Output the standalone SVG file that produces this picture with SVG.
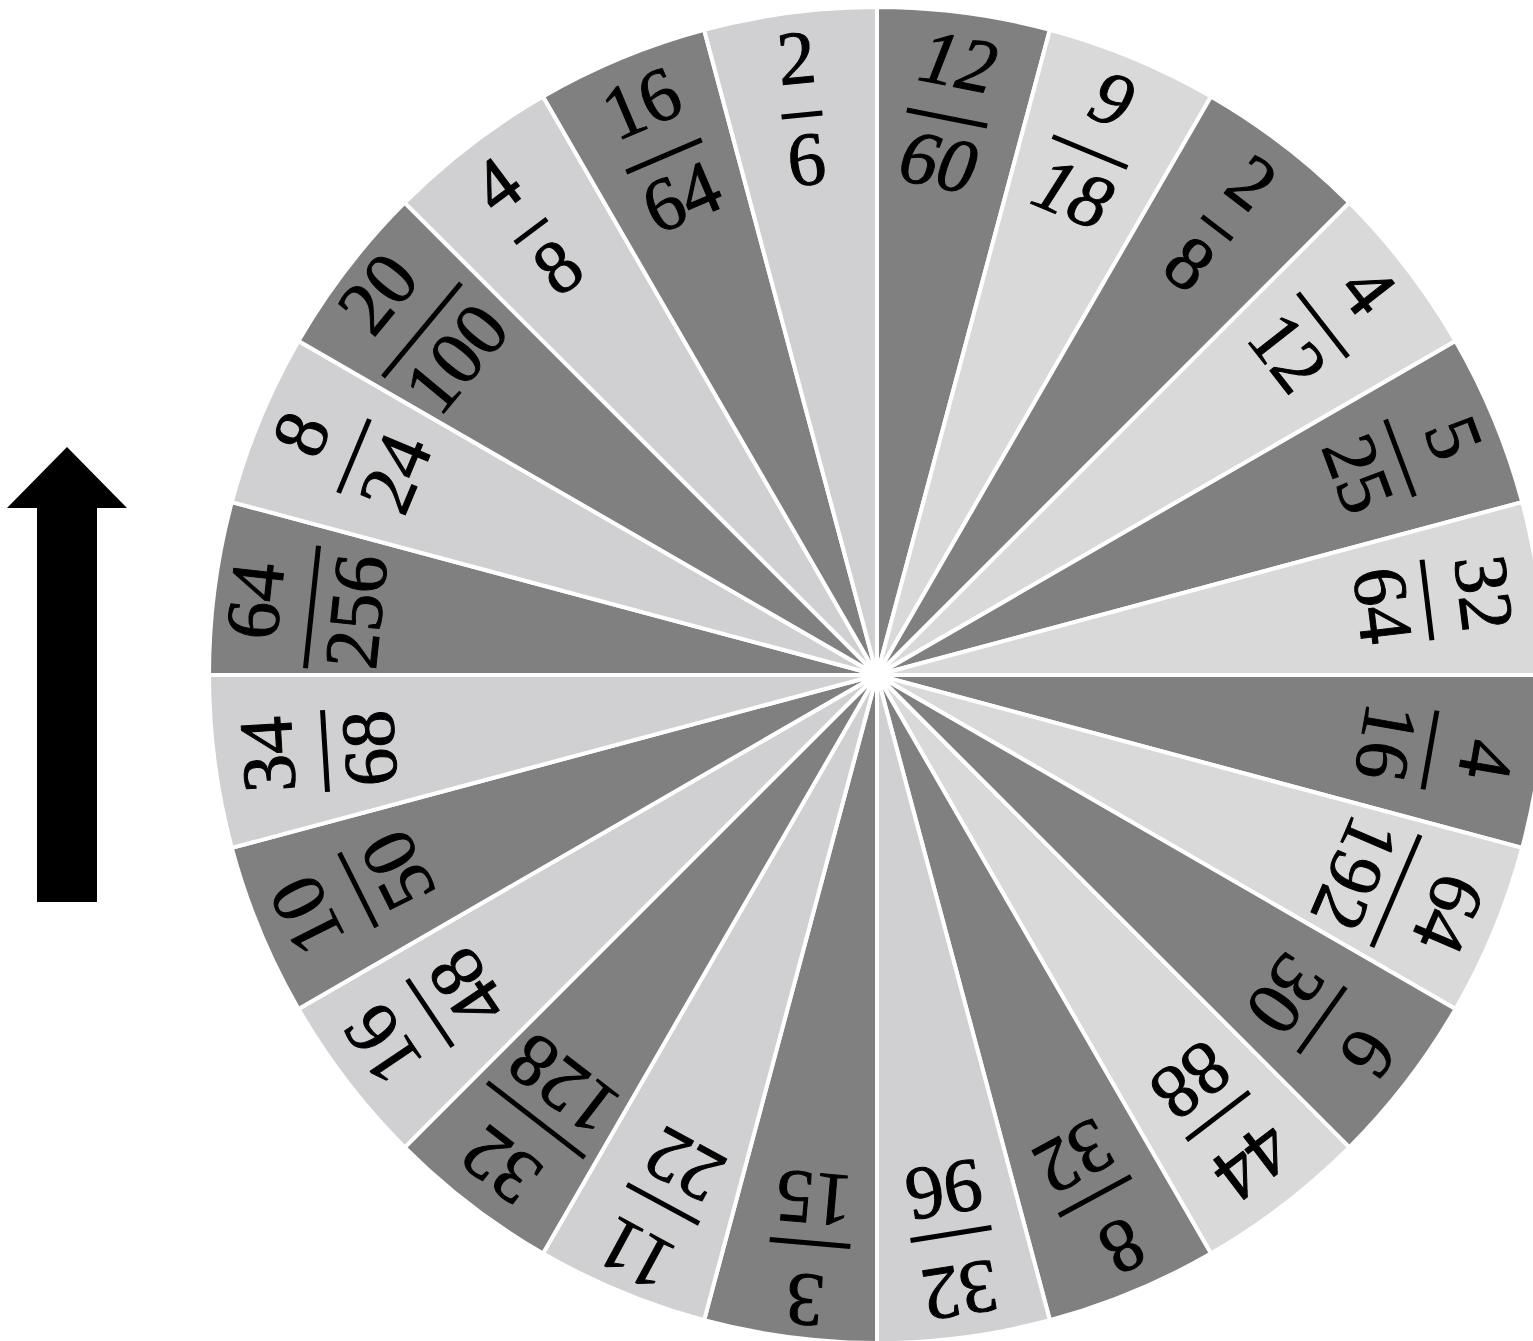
<svg xmlns="http://www.w3.org/2000/svg" width="1533" height="1341" viewBox="0 0 1533 1341">
<style>
.s{stroke:#ffffff;stroke-width:4;stroke-linejoin:round}
.d{fill:#808080}
.l1{fill:#d0cfd1}
.l2{fill:#d9d9d9}
.t{font-family:"Liberation Serif","DejaVu Serif",serif;font-size:76px;fill:#000;stroke:#000;stroke-width:1;text-anchor:middle}
.i{font-style:italic}
.b{fill:#000}
</style>
<rect width="1533" height="1341" fill="#ffffff"/>
<g id="wheel">
<path class="s d" d="M877,675 L877,7 A668,668 0 0 1 1049.9,29.8 Z"/>
<path class="s l2" d="M877,675 L1049.9,29.8 A668,668 0 0 1 1211,96.5 Z"/>
<path class="s d" d="M877,675 L1211,96.5 A668,668 0 0 1 1349.3,202.7 Z"/>
<path class="s l2" d="M877,675 L1349.3,202.7 A668,668 0 0 1 1455.5,341 Z"/>
<path class="s d" d="M877,675 L1455.5,341 A668,668 0 0 1 1522.2,502.1 Z"/>
<path class="s l2" d="M877,675 L1522.2,502.1 A668,668 0 0 1 1545,675 Z"/>
<path class="s d" d="M877,675 L1545,675 A668,668 0 0 1 1522.2,847.9 Z"/>
<path class="s l2" d="M877,675 L1522.2,847.9 A668,668 0 0 1 1455.5,1009 Z"/>
<path class="s d" d="M877,675 L1455.5,1009 A668,668 0 0 1 1349.3,1147.3 Z"/>
<path class="s l2" d="M877,675 L1349.3,1147.3 A668,668 0 0 1 1211,1253.5 Z"/>
<path class="s d" d="M877,675 L1211,1253.5 A668,668 0 0 1 1049.9,1320.2 Z"/>
<path class="s l1" d="M877,675 L1049.9,1320.2 A668,668 0 0 1 877,1343 Z"/>
<path class="s d" d="M877,675 L877,1343 A668,668 0 0 1 704.1,1320.2 Z"/>
<path class="s l1" d="M877,675 L704.1,1320.2 A668,668 0 0 1 543,1253.5 Z"/>
<path class="s d" d="M877,675 L543,1253.5 A668,668 0 0 1 404.7,1147.3 Z"/>
<path class="s l1" d="M877,675 L404.7,1147.3 A668,668 0 0 1 298.5,1009 Z"/>
<path class="s d" d="M877,675 L298.5,1009 A668,668 0 0 1 231.8,847.9 Z"/>
<path class="s l1" d="M877,675 L231.8,847.9 A668,668 0 0 1 209,675 Z"/>
<path class="s d" d="M877,675 L209,675 A668,668 0 0 1 231.8,502.1 Z"/>
<path class="s l1" d="M877,675 L231.8,502.1 A668,668 0 0 1 298.5,341 Z"/>
<path class="s d" d="M877,675 L298.5,341 A668,668 0 0 1 404.7,202.7 Z"/>
<path class="s l1" d="M877,675 L404.7,202.7 A668,668 0 0 1 543,96.5 Z"/>
<path class="s d" d="M877,675 L543,96.5 A668,668 0 0 1 704.1,29.8 Z"/>
<path class="s l1" d="M877,675 L704.1,29.8 A668,668 0 0 1 877,7 Z"/>
</g>
<g id="f12-60" transform="translate(947,118) rotate(11.3)"><text class="t i" y="-32">12</text><rect class="b" x="-41" y="-2.5" width="82" height="5"/><text class="t i" y="70">60</text></g>
<g id="f9-18" transform="translate(1090,152) rotate(22.5)"><text class="t i" y="-32">9</text><rect class="b" x="-40.5" y="-2.5" width="81" height="5"/><text class="t i" y="70">18</text></g>
<g id="f2-8" transform="translate(1217,228) rotate(37.5)"><text class="t" y="-32">2</text><rect class="b" x="-19" y="-2.5" width="38" height="5"/><text class="t" y="70">8</text></g>
<g id="f4-12" transform="translate(1323,325) rotate(52)"><text class="t" y="-32">4</text><rect class="b" x="-40.5" y="-2.5" width="81" height="5"/><text class="t" y="70">12</text></g>
<g id="f5-25" transform="translate(1400,458) rotate(69.4)"><text class="t" y="-32">5</text><rect class="b" x="-41" y="-2.5" width="82" height="5"/><text class="t" y="70">25</text></g>
<g id="f32-64" transform="translate(1427,600) rotate(83)"><text class="t" y="-32">32</text><rect class="b" x="-40.5" y="-2.5" width="81" height="5"/><text class="t" y="70">64</text></g>
<g id="f4-16" transform="translate(1430,750) rotate(100)"><text class="t" y="-32">4</text><rect class="b" x="-40" y="-2.5" width="80" height="5"/><text class="t" y="70">16</text></g>
<g id="f64-192" transform="translate(1396,891) rotate(113.2)"><text class="t" y="-32">64</text><rect class="b" x="-61" y="-2.5" width="122" height="5"/><text class="t" y="70">192</text></g>
<g id="f6-30" transform="translate(1322,1020) rotate(125.5)"><text class="t" y="-32">6</text><rect class="b" x="-40.5" y="-2.5" width="81" height="5"/><text class="t" y="70">30</text></g>
<g id="f44-88" transform="translate(1218,1116) rotate(142.7)"><text class="t" y="-32">44</text><rect class="b" x="-39.5" y="-2.5" width="79" height="5"/><text class="t" y="70">88</text></g>
<g id="f8-32" transform="translate(1095,1196) rotate(151.6)"><text class="t" y="-32">8</text><rect class="b" x="-41" y="-2.5" width="82" height="5"/><text class="t" y="70">32</text></g>
<g id="f32-96" transform="translate(951,1234) rotate(170.9)"><text class="t" y="-32">32</text><rect class="b" x="-41" y="-2.5" width="82" height="5"/><text class="t" y="70">96</text></g>
<g id="f3-15" transform="translate(810,1243) rotate(185)"><text class="t" y="-32">3</text><rect class="b" x="-40.5" y="-2.5" width="81" height="5"/><text class="t" y="70">15</text></g>
<g id="f11-22" transform="translate(663,1204) rotate(208.5)"><text class="t" y="-32">11</text><rect class="b" x="-41" y="-2.5" width="82" height="5"/><text class="t" y="70">22</text></g>
<g id="f32-128" transform="translate(536,1120) rotate(217.7)"><text class="t" y="-32">32</text><rect class="b" x="-61.5" y="-2.5" width="123" height="5"/><text class="t" y="70">128</text></g>
<g id="f16-48" transform="translate(430,1013) rotate(236.1)"><text class="t" y="-32">16</text><rect class="b" x="-40.5" y="-2.5" width="81" height="5"/><text class="t" y="70">48</text></g>
<g id="f10-50" transform="translate(358,890) rotate(243.4)"><text class="t" y="-32">10</text><rect class="b" x="-41.5" y="-2.5" width="83" height="5"/><text class="t" y="70">50</text></g>
<g id="f34-68" transform="translate(325,751) rotate(266.5)"><text class="t" y="-32">34</text><rect class="b" x="-41" y="-2.5" width="82" height="5"/><text class="t" y="70">68</text></g>
<g id="f64-256" transform="translate(312,607) rotate(276.1)"><text class="t" y="-32">64</text><rect class="b" x="-61.5" y="-2.5" width="123" height="5"/><text class="t" y="70">256</text></g>
<g id="f8-24" transform="translate(354,456) rotate(292.7)"><text class="t" y="-32">8</text><rect class="b" x="-40" y="-2.5" width="80" height="5"/><text class="t" y="70">24</text></g>
<g id="f20-100" transform="translate(422,330) rotate(309.7)"><text class="t" y="-32">20</text><rect class="b" x="-61" y="-2.5" width="122" height="5"/><text class="t" y="70">100</text></g>
<g id="f4-8" transform="translate(531,231) rotate(323.1)"><text class="t" y="-32">4</text><rect class="b" x="-20" y="-2.5" width="40" height="5"/><text class="t" y="70">8</text></g>
<g id="f16-64" transform="translate(664,156) rotate(336.9)"><text class="t" y="-32">16</text><rect class="b" x="-41" y="-2.5" width="82" height="5"/><text class="t" y="70">64</text></g>
<g id="f2-6" transform="translate(802,115) rotate(-5.6)"><text class="t" y="-32">2</text><rect class="b" x="-20.5" y="-2.5" width="41" height="5"/><text class="t" y="70">6</text></g>
<g id="arrow"><polygon points="67,447 127,508 97,508 97,902 37,902 37,508 7,508" fill="#000000"/></g>
<g id="connectors"></g>
</svg>
